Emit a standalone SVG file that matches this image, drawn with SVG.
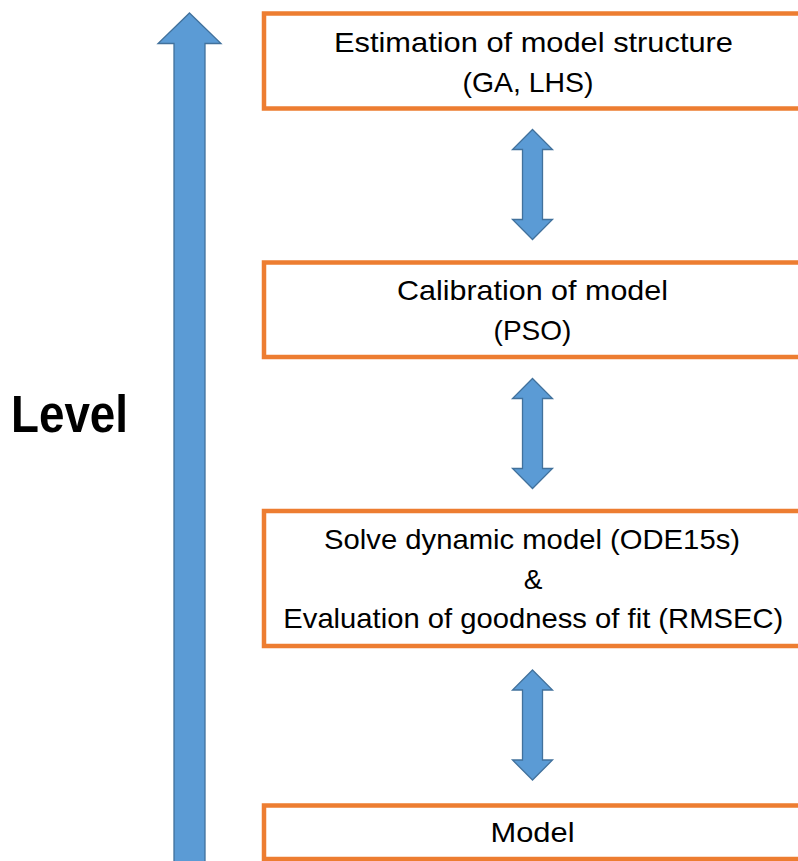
<svg xmlns="http://www.w3.org/2000/svg" xmlns:xlink="http://www.w3.org/1999/xlink" width="798" height="861" viewBox="0 0 798 861">
  <style>
    .box { fill: #ffffff; stroke: #ED7D31; stroke-width: 4.5; }
    .arrow { fill: #5B9BD5; stroke: #41719C; stroke-width: 1.3; stroke-linejoin: miter; }
    .label { font-family: "Liberation Sans", Arial, sans-serif; font-size: 28px; fill: #000000; text-anchor: middle; }
    .level { font-family: "Liberation Sans", Arial, sans-serif; font-size: 51px; font-weight: bold; fill: #000000; }
  </style>
  <defs>
    <path id="dbl" class="arrow" d="M0,0 L20,20 L10,20 L10,90 L20,90 L0,110 L-20,90 L-10,90 L-10,20 L-20,20 Z"/>
  </defs>
  <rect width="798" height="861" fill="#ffffff"/>

  <g id="level-arrow">
    <path class="arrow" d="M189.5,13 L221,43.5 L205,43.5 L205,875 L174,875 L174,43.5 L158,43.5 Z"/>
    <text class="level" x="11" y="431.5" textLength="117" lengthAdjust="spacingAndGlyphs">Level</text>
  </g>

  <g id="node-estimation">
    <rect class="box" x="264" y="13.5" width="545" height="95"/>
    <text class="label" x="533.5" y="51.5" textLength="399" lengthAdjust="spacingAndGlyphs">Estimation of model structure</text>
    <text class="label" x="528" y="91.5" textLength="131" lengthAdjust="spacingAndGlyphs">(GA, LHS)</text>
  </g>

  <g id="node-calibration">
    <rect class="box" x="264" y="262.5" width="545" height="94.5"/>
    <text class="label" x="532.5" y="300" textLength="271" lengthAdjust="spacingAndGlyphs">Calibration of model</text>
    <text class="label" x="532.5" y="340">(PSO)</text>
  </g>

  <g id="node-solve">
    <rect class="box" x="264" y="511" width="545" height="135"/>
    <text class="label" x="532" y="549.3" textLength="416" lengthAdjust="spacingAndGlyphs">Solve dynamic model (ODE15s)</text>
    <text class="label" x="533" y="588.5">&amp;</text>
    <text class="label" x="533.3" y="628" textLength="500" lengthAdjust="spacingAndGlyphs">Evaluation of goodness of fit (RMSEC)</text>
  </g>

  <g id="node-model">
    <rect class="box" x="264" y="805.5" width="545" height="53.5"/>
    <text class="label" x="532.5" y="842.3" textLength="84" lengthAdjust="spacingAndGlyphs">Model</text>
  </g>

  <g id="connectors">
    <use xlink:href="#dbl" href="#dbl" transform="translate(532.5,129.5)"/>
    <use xlink:href="#dbl" href="#dbl" transform="translate(532.5,378.5)"/>
    <use xlink:href="#dbl" href="#dbl" transform="translate(532.5,670)"/>
  </g>
</svg>
